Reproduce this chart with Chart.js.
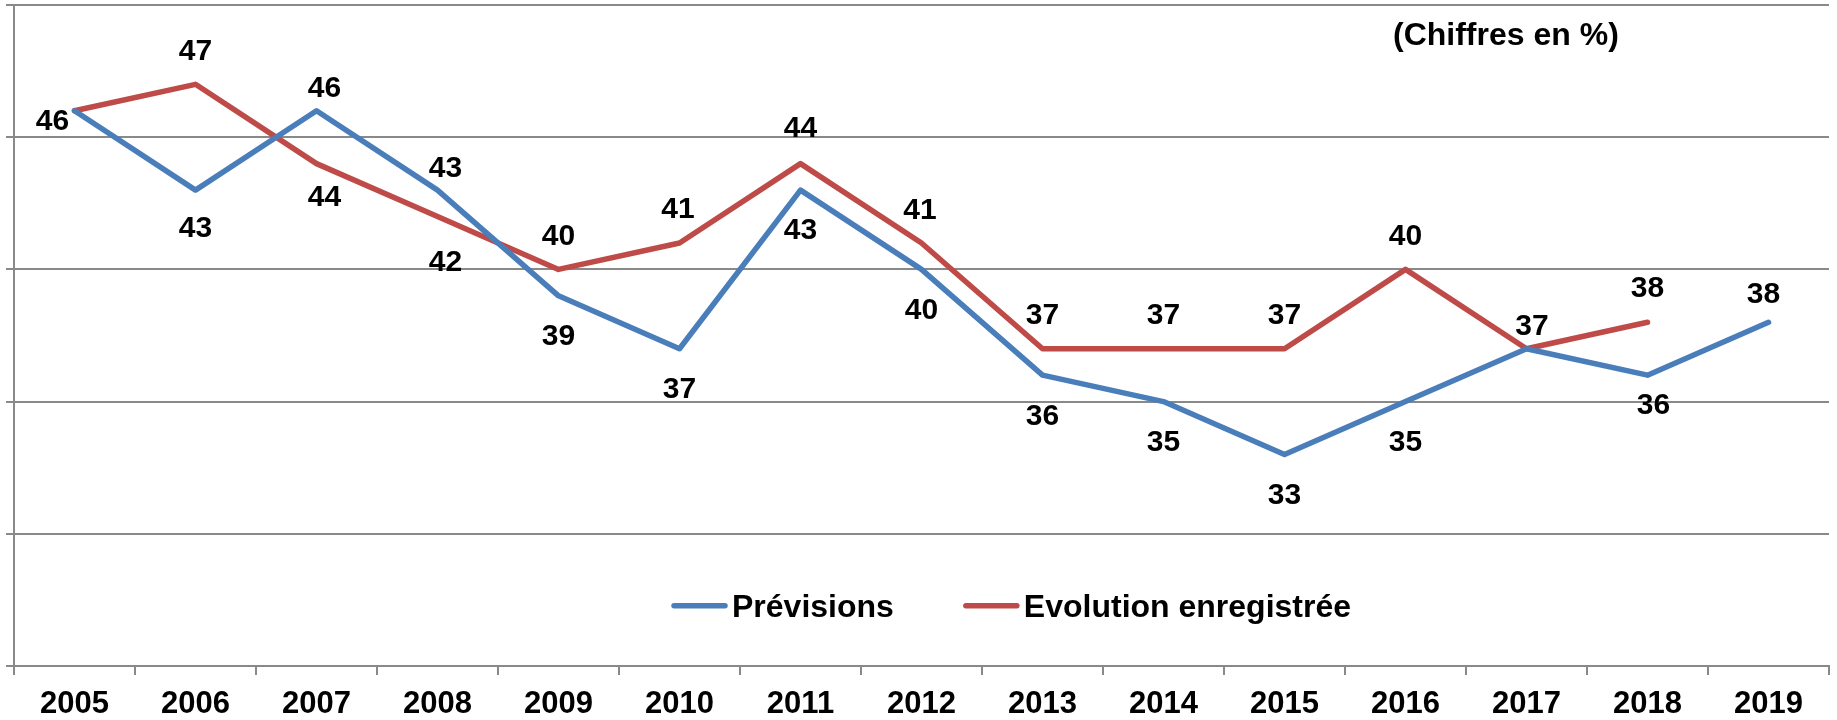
<!DOCTYPE html>
<html lang="fr">
<head>
    <meta charset="UTF-8">
    <title>Prévisions et évolution enregistrée</title>
    <script src="https://cdn.jsdelivr.net/npm/chart.js"></script>
    <style>
        body {
            margin: 0;
            padding: 0;
            background-color: #fff;
        }

        .chart-box {
            width: 1837px;
            height: 720px;
        }
    </style>
</head>
<body>
    <div class="chart-box">
        <canvas id="evolChart"></canvas>
    </div>

    <script>
        const years = ['2005', '2006', '2007', '2008', '2009', '2010', '2011', '2012', '2013', '2014', '2015', '2016', '2017', '2018', '2019'];
        const previsions = [46, 43, 46, 43, 39, 37, 43, 40, 36, 35, 33, 35, 37, 36, 38];
        const evolution = [46, 47, 44, 42, 40, 41, 44, 41, 37, 37, 37, 40, 37, 38, null];
        const unitNote = '(Chiffres en %)';

        // where each value label sits relative to its point (null = no label)
        const previsionsLabelPos = [[-22, 9], [0, 36], [8, -24], [8, -24], [0, 38], [0, 38.5], [0, 38], [0, 39], [0, 39], [0, 38.5], [0, 38.5], [0, 38.5], null, [6, 28], [-5, -29.5]];
        const evolutionLabelPos = [null, [0, -35], [8, 32], [8, 43.5], [0, -35.5], [-1.5, -36], [0, -37], [-1.5, -35], [0, -35.5], [0, -35.5], [0, -35.5], [0, -35.5], [5.5, -24.5], [0, -35.5], null];

        const fontFamily = '"Liberation Sans", Arial, sans-serif';
        const axisGrey = '#898989';
        const blue = '#4A7EBB';
        const red = '#BE4B48';
        const lineW = 5.5;

        const valueLabels = {
            id: 'valueLabels',
            afterDatasetsDraw(chart) {
                const ctx = chart.ctx;
                const positions = [previsionsLabelPos, evolutionLabelPos];
                ctx.save();
                ctx.font = 'bold 30px ' + fontFamily;
                ctx.fillStyle = '#000';
                ctx.textAlign = 'center';
                ctx.textBaseline = 'alphabetic';
                chart.data.datasets.forEach(function(ds, i) {
                    const meta = chart.getDatasetMeta(i);
                    meta.data.forEach(function(pt, j) {
                        const pos = positions[i][j];
                        if (!pos || ds.data[j] == null) return;
                        ctx.fillText(String(ds.data[j]), pt.x + pos[0], pt.y + pos[1] + 10.7);
                    });
                });
                ctx.restore();
            },
            afterDraw(chart) {
                const ctx = chart.ctx;
                const area = chart.chartArea;
                ctx.save();
                ctx.font = 'bold 32px ' + fontFamily;
                ctx.fillStyle = '#000';
                ctx.textAlign = 'left';
                ctx.textBaseline = 'alphabetic';

                // note in the top right corner
                ctx.fillText(unitNote, area.right - 436, area.top + 40);

                // legend inside the plot
                const lineLen = 57;
                const gapText = 4;
                const gapItem = 69;
                let x = area.left + 657;
                const y = area.bottom - 60.3;
                chart.data.datasets.forEach(function(ds) {
                    const w = ctx.measureText(ds.label).width;
                    ctx.strokeStyle = ds.borderColor;
                    ctx.lineWidth = lineW;
                    ctx.lineCap = 'round';
                    ctx.beginPath();
                    ctx.moveTo(x + 3, y);
                    ctx.lineTo(x + lineLen - 3, y);
                    ctx.stroke();
                    ctx.fillText(ds.label, x + lineLen + gapText, y + 11.6);
                    x += lineLen + gapText + w + gapItem;
                });
                ctx.restore();
            }
        };

        const ctx = document.getElementById('evolChart').getContext('2d');
        new Chart(ctx, {
            type: 'line',
            data: {
                labels: years,
                datasets: [
                    {
                        label: 'Prévisions',
                        data: previsions,
                        borderColor: blue,
                        backgroundColor: blue,
                        borderWidth: lineW,
                        pointRadius: 0,
                        tension: 0,
                        borderCapStyle: 'round',
                        borderJoinStyle: 'round'
                    },
                    {
                        label: 'Evolution enregistrée',
                        data: evolution,
                        borderColor: red,
                        backgroundColor: red,
                        borderWidth: lineW,
                        pointRadius: 0,
                        tension: 0,
                        borderCapStyle: 'round',
                        borderJoinStyle: 'round'
                    }
                ]
            },
            options: {
                responsive: true,
                maintainAspectRatio: false,
                animation: false,
                layout: {
                    padding: { left: 6, right: 8, top: 5, bottom: 0 }
                },
                plugins: {
                    legend: { display: false },
                    tooltip: { enabled: false }
                },
                scales: {
                    x: {
                        offset: true,
                        afterFit: function(scale) {
                            scale.height = 54;
                        },
                        grid: {
                            offset: true,
                            drawOnChartArea: false,
                            drawTicks: true,
                            tickLength: 9,
                            color: axisGrey,
                            lineWidth: 2
                        },
                        border: { color: axisGrey, width: 2 },
                        ticks: {
                            color: '#000',
                            font: { family: fontFamily, size: 31, weight: 'bold' },
                            padding: 11,
                            maxRotation: 0,
                            autoSkip: false
                        }
                    },
                    y: {
                        min: 25,
                        max: 50,
                        ticks: { stepSize: 5, display: false },
                        grid: {
                            color: axisGrey,
                            lineWidth: 2,
                            drawTicks: true,
                            tickLength: 8
                        },
                        border: { color: axisGrey, width: 2 }
                    }
                }
            },
            plugins: [valueLabels]
        });
    </script>
</body>
</html>
